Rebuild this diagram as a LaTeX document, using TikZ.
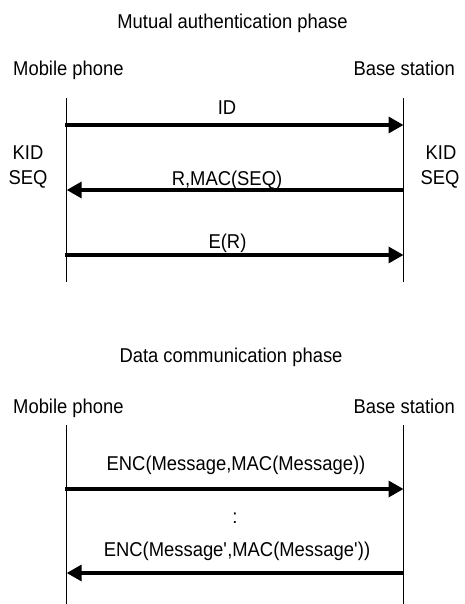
\documentclass[tikz,border=0pt]{standalone}
\usepackage{fontspec}
\setmainfont{Liberation Sans}[FakeStretch=0.92]
\usetikzlibrary{arrows.meta}

\tikzset{
  lbl/.style={inner sep=0pt, font=\fontsize{20}{24}\selectfont},
  lifeline/.style={line width=1.2pt},
  msg/.style={line width=3.4pt, -{Triangle[length=15pt,width=16pt]}, shorten <=-1.5pt},
}

\begin{document}
\begin{tikzpicture}[x=1pt, y=-1pt]
  \useasboundingbox (0,0) rectangle (464,604);

  % ---- Mutual authentication phase ----
  \node[lbl, anchor=base] (title1) at (232.5,29) {Mutual authentication phase};
  \node[lbl, anchor=base west] (mp1) at (13,76) {Mobile phone};
  \node[lbl, anchor=base east] (bs1) at (455,76) {Base station};

  \coordinate (mpTop1) at (66.7,98);
  \coordinate (mpBot1) at (66.7,282);
  \coordinate (bsTop1) at (403.5,98);
  \coordinate (bsBot1) at (403.5,282);
  \draw[lifeline] (mpTop1) -- (mpBot1);
  \draw[lifeline] (bsTop1) -- (bsBot1);

  \node[lbl, anchor=base] (kidL) at (28,159.5) {KID};
  \node[lbl, anchor=base] (seqL) at (28,184) {SEQ};
  \node[lbl, anchor=base] (kidR) at (441,159.5) {KID};
  \node[lbl, anchor=base] (seqR) at (440,184) {SEQ};

  \coordinate (m1L) at (66.7,125);
  \coordinate (m1R) at (403.5,125);
  \coordinate (m2L) at (66.7,190);
  \coordinate (m2R) at (403.5,190);
  \coordinate (m3L) at (66.7,255);
  \coordinate (m3R) at (403.5,255);

  \draw[msg] (m1L) -- (m1R);
  \node[lbl, anchor=base] (idlbl) at (227,115) {ID};
  \draw[msg, shorten <=0pt] (m2R) -- (m2L);
  \node[lbl, anchor=base] (maclbl) at (227,185) {R,MAC(SEQ)};
  \draw[msg] (m3L) -- (m3R);
  \node[lbl, anchor=base] (erlbl) at (227.5,248) {E(R)};

  % ---- Data communication phase ----
  \node[lbl, anchor=base] (title2) at (231,362) {Data communication phase};
  \node[lbl, anchor=base west] (mp2) at (13,413) {Mobile phone};
  \node[lbl, anchor=base east] (bs2) at (455,413) {Base station};

  \coordinate (mpTop2) at (66.7,425);
  \coordinate (mpBot2) at (66.7,604);
  \coordinate (bsTop2) at (403.5,425);
  \coordinate (bsBot2) at (403.5,604);
  \draw[lifeline] (mpTop2) -- (mpBot2);
  \draw[lifeline] (bsTop2) -- (bsBot2);

  \coordinate (d1L) at (66.7,489);
  \coordinate (d1R) at (403.5,489);
  \coordinate (d2L) at (66.7,573);
  \coordinate (d2R) at (403.5,573);

  \draw[msg] (d1L) -- (d1R);
  \node[lbl, anchor=base] (enc1) at (236,470.5) {ENC(Message,MAC(Message))};
  \node[lbl, anchor=base] (dots) at (235,523) {:};
  \draw[msg, shorten <=0pt] (d2R) -- (d2L);
  \node[lbl, anchor=base] (enc2) at (237,556) {ENC(Message\textquotesingle,MAC(Message\textquotesingle))};
\end{tikzpicture}
\end{document}
